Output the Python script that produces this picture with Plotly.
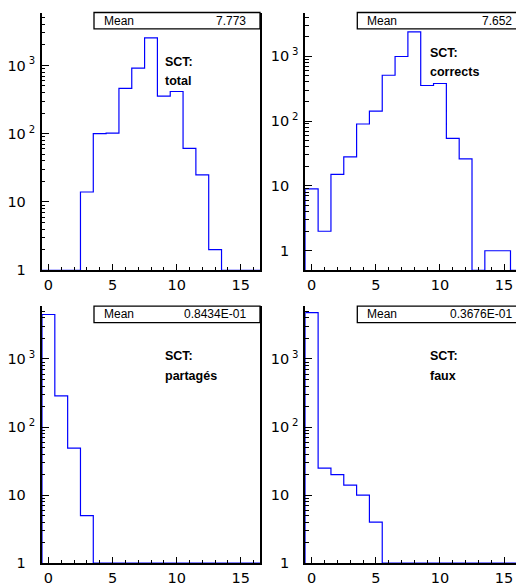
import plotly.graph_objects as go

# ---- data (bin contents, bins centred on integers 0..16) ----
bins = list(range(17))
total = [0, 0, 0, 14, 100, 102, 460, 915, 2530, 355, 415, 61, 25, 2, 0, 0, 0]
corrects = [9, 2, 15, 28, 90, 142, 508, 988, 2375, 353, 379, 54, 26, 0, 1, 1, 0]
partages = [4500, 287, 49, 5, 0, 0, 0, 0, 0, 0, 0, 0, 0, 0, 0, 0, 0]
faux = [4800, 25, 20, 14, 10, 4, 0, 0, 0, 0, 0, 0, 0, 0, 0, 0, 0]

names = ["total", "corrects", "partagés", "faux"]
means = ["7.773", "7.652", "0.8434E-01", "0.3676E-01"]
series = [total, corrects, partages, faux]

x_ticks = [0, 5, 10, 15]
y_ticks = [1, 10, 100, 1000]
PAD = "\u2009<sup><span style='color:rgba(0,0,0,0)'>3</span></sup>"
y_ticktext = ["1" + PAD, "10" + PAD,
              "10\u2009<sup>2</sup>", "10\u2009<sup>3</sup>"]

W, H = 516, 586
FONT = "Liberation Sans, Arial, Helvetica, sans-serif"
TICKFONT = "DejaVu Sans, Liberation Sans, sans-serif"

# panel geometry in pixels: (left, right, top, bottom), x range, log y range
panels = [
    dict(px=(42, 260, 12.7, 274.5), xr=[-0.5, 16.5], yr=[0, 3.775], mirror=True),
    dict(px=(305.3, 516, 12.7, 274.5), xr=[-0.5, 15.93], yr=[-0.301, 3.673], mirror=False),
    dict(px=(42, 260, 311, 572), xr=[-0.5, 16.5], yr=[0, 3.775], mirror=True),
    dict(px=(305.3, 516, 311, 572), xr=[-0.5, 15.93], yr=[0, 3.775], mirror=False),
]

minor_y = [m * 10 ** d for d in range(0, 4) for m in range(2, 10)]

fig = go.Figure()
layout = dict(width=W, height=H, autosize=False,
              margin=dict(l=0, r=0, t=0, b=0, pad=0),
              paper_bgcolor="white", plot_bgcolor="white",
              showlegend=False, font=dict(family=FONT, color="black"))
shapes = []
annotations = []

for i, (p, vals, name, mean) in enumerate(zip(panels, series, names, means)):
    k = "" if i == 0 else str(i + 1)
    l, r, t, b = p["px"]
    ymin = 10 ** p["yr"][0]
    edges = [c - 0.5 for c in bins] + [bins[-1] + 0.5]
    xs = [edges[0]] + edges[:-1] + [edges[-1]]
    ys = [ymin] + [v if v > 0 else ymin for v in vals] + [ymin]
    fig.add_trace(go.Scatter(x=xs, y=ys, mode="lines", line_shape="hv",
                             line=dict(color="#0000ff", width=1.2),
                             xaxis="x" + k, yaxis="y" + k, hoverinfo="skip"))
    layout["xaxis" + k] = dict(
        domain=[l / W, r / W], range=p["xr"], anchor="y" + k,
        showline=True, linecolor="black", linewidth=1.8, mirror=False,
        showgrid=False, zeroline=False, ticks="inside", ticklen=6,
        tickcolor="black", tickwidth=1, tickvals=x_ticks,
        tickfont=dict(size=14.5, family=TICKFONT, color="black"),
        minor=dict(ticks="inside", ticklen=3, dtick=1, tick0=0,
                   tickcolor="black", showgrid=False),
    )
    layout["yaxis" + k] = dict(
        domain=[1 - b / H, 1 - t / H], type="log", range=p["yr"], anchor="x" + k,
        showline=True, linecolor="black", linewidth=1.8, mirror=p["mirror"],
        showgrid=False, zeroline=False, ticks="inside", ticklen=7,
        tickcolor="black", tickwidth=1, tickvals=y_ticks, ticktext=y_ticktext,
        tickfont=dict(size=14.5, family=TICKFONT, color="black"),
        ticklabelstandoff=2,
        minor=dict(ticks="inside", ticklen=3.5, tickvals=minor_y,
                   tickcolor="black", showgrid=False),
    )
    # statistics box
    box_left = l + 52
    box_h = 16.6
    shapes.append(dict(type="rect", xref="paper", yref="paper",
                       x0=box_left / W, x1=(r if i % 2 == 0 else W + 5) / W,
                       y0=1 - (t + box_h) / H, y1=1 - t / H,
                       line=dict(color="black", width=1.3), fillcolor="white",
                       layer="above"))
    yc = 1 - (t + box_h / 2) / H
    annotations.append(dict(text="Mean", xref="paper", yref="paper",
                            x=(box_left + 8) / W, y=yc, xanchor="left",
                            yanchor="middle", showarrow=False,
                            font=dict(size=12, family=FONT)))
    annotations.append(dict(text=mean, xref="paper", yref="paper",
                            x=(r - 12 if i % 2 == 0 else 514) / W, y=yc,
                            xanchor="right", yanchor="middle", showarrow=False,
                            font=dict(size=12, family=FONT)))
    # label
    lx = 163.3 if i % 2 == 0 else 427.5
    y1 = [63.3, 54, 362, 361.7][i]
    y2 = [82.3, 72.7, 382, 382][i]
    annotations.append(dict(text="<b>SCT:</b>", xref="paper", yref="paper",
                            x=lx / W, y=1 - y1 / H, xanchor="left", yanchor="middle",
                            showarrow=False, font=dict(size=12.5, family=FONT)))
    annotations.append(dict(text="<b>" + name + "</b>", xref="paper", yref="paper",
                            x=lx / W, y=1 - y2 / H, xanchor="left", yanchor="middle",
                            showarrow=False, font=dict(size=12.5, family=FONT)))

layout["shapes"] = shapes
layout["annotations"] = annotations
fig.update_layout(**layout)
fig.write_html("out.html", config={"displayModeBar": False},
               post_script="document.body.style.margin='0';"
                           "document.body.style.overflow='hidden';")
